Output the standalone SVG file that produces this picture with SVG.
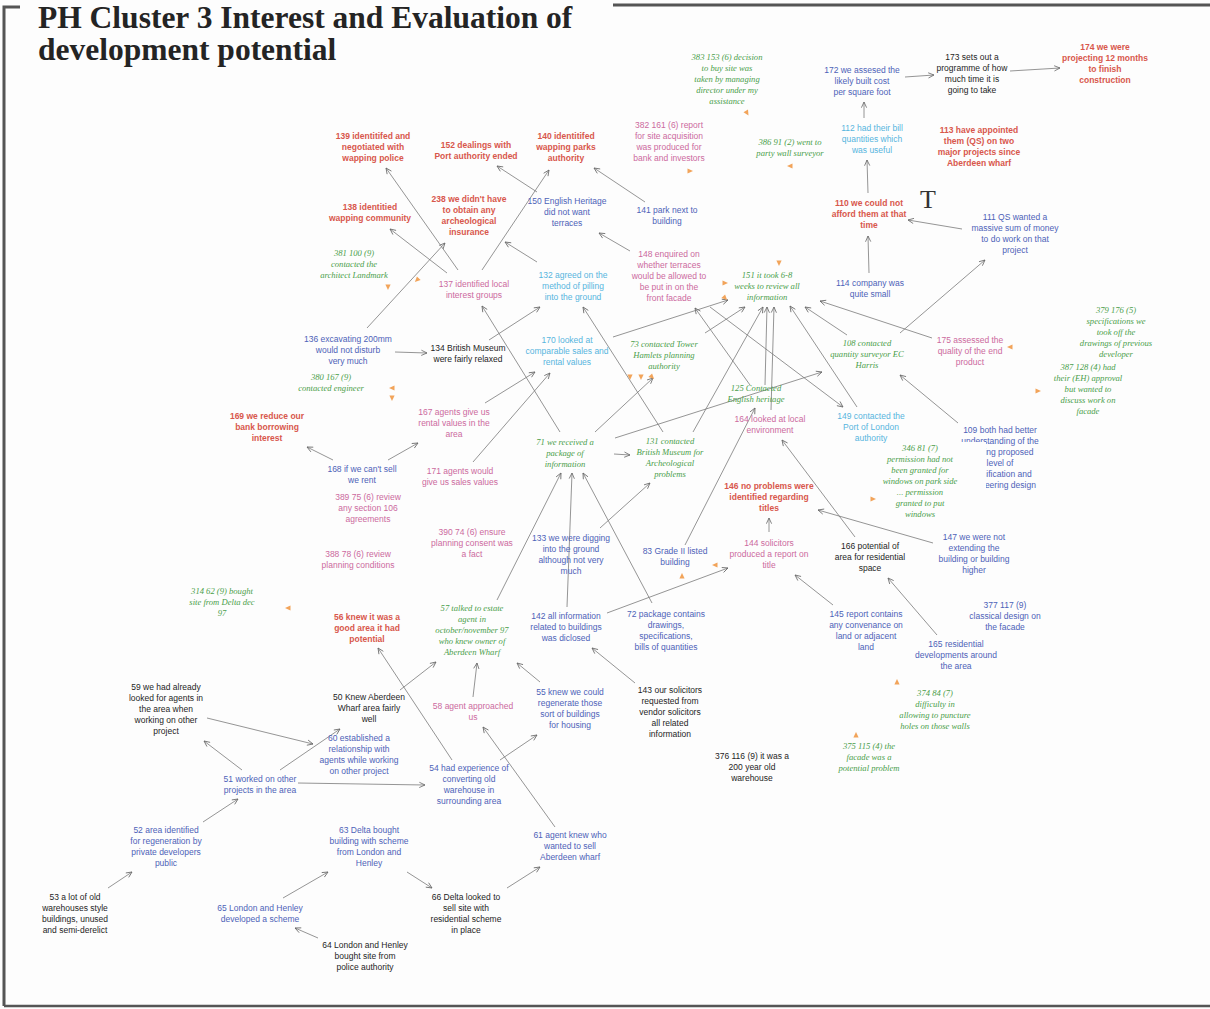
<svg xmlns="http://www.w3.org/2000/svg" xmlns:xlink="http://www.w3.org/1999/xlink" width="1210" height="1009" viewBox="0 0 1210 1009">
<style>
  .s{font-family:"Liberation Sans",Arial,sans-serif;font-size:8.5px;text-anchor:middle}
  .g{font-family:"Liberation Serif","Times New Roman",serif;font-style:italic;font-size:8.6px;text-anchor:middle;fill:#4a9d4a}
  .r{fill:#d8574c;font-weight:bold}
  .p{fill:#cc6a9e}
  .b{fill:#4d62b8}
  .c{fill:#57b5dd}
  .k{fill:#1e1e1e}
  .title{font-family:"Liberation Serif","Times New Roman",serif;font-weight:bold;font-size:31.5px;fill:#242424}
  #edges line{stroke:#7a7a7a;stroke-width:0.8;marker-end:url(#ah)}
  .mk{fill:#f2a45a}
  .frame{stroke:#555;fill:none}
</style>
<defs>
  <marker id="ah" viewBox="0 0 8 8" refX="7.5" refY="4" markerWidth="7" markerHeight="7" markerUnits="userSpaceOnUse" orient="auto">
    <path d="M1,1 L7.5,4 L1,7" fill="none" stroke="#666" stroke-width="0.9"/>
  </marker>
  <path id="tri" d="M-2.5,-2.6 L3,0 L-2.5,2.6 Z"/>
</defs>
<rect width="1210" height="1009" fill="#fdfdfd"/>

<!-- frame -->
<polyline class="frame" points="20,7 4,7 4,1006" stroke-width="3"/>
<line class="frame" x1="613" y1="5" x2="1210" y2="5" stroke-width="3"/>
<line class="frame" x1="4" y1="1006" x2="1210" y2="1006" stroke-width="2.5"/>

<!-- title -->
<text class="title" x="38" y="28">PH Cluster 3 Interest and Evaluation of</text>
<text class="title" x="38" y="60">development potential</text>
<text x="928" y="208" font-family="Liberation Serif,serif" font-size="26" fill="#333" text-anchor="middle">T</text>

<!-- connectors -->
<g id="edges">
  <line x1="905" y1="77" x2="934" y2="75"/>
  <line x1="1010" y1="71" x2="1060" y2="68"/>
  <line x1="864" y1="118" x2="864" y2="102"/>
  <line x1="868" y1="193" x2="867" y2="160"/>
  <line x1="962" y1="229" x2="908" y2="220"/>
  <line x1="869" y1="273" x2="868" y2="236"/>
  <line x1="900" y1="333" x2="985" y2="260"/>
  <line x1="932" y1="338" x2="820" y2="301"/>
  <line x1="847" y1="335" x2="805" y2="307"/>
  <line x1="958" y1="423" x2="900" y2="375"/>
  <line x1="857" y1="407" x2="790" y2="306"/>
  <line x1="710" y1="307" x2="843" y2="407"/>
  <line x1="750" y1="385" x2="695" y2="308"/>
  <line x1="615" y1="438" x2="822" y2="372"/>
  <line x1="765" y1="385" x2="767" y2="307"/>
  <line x1="771" y1="410" x2="774" y2="307"/>
  <line x1="693" y1="432" x2="763" y2="307"/>
  <line x1="705" y1="333" x2="745" y2="307"/>
  <line x1="613" y1="337" x2="728" y2="300"/>
  <line x1="769" y1="532" x2="769" y2="518"/>
  <line x1="685" y1="545" x2="755" y2="408"/>
  <line x1="855" y1="537" x2="782" y2="440"/>
  <line x1="933" y1="543" x2="818" y2="510"/>
  <line x1="833" y1="605" x2="795" y2="575"/>
  <line x1="937" y1="635" x2="888" y2="578"/>
  <line x1="607" y1="613" x2="728" y2="568"/>
  <line x1="635" y1="683" x2="592" y2="648"/>
  <line x1="567" y1="607" x2="572" y2="473"/>
  <line x1="497" y1="600" x2="561" y2="473"/>
  <line x1="652" y1="603" x2="583" y2="473"/>
  <line x1="600" y1="528" x2="650" y2="483"/>
  <line x1="614" y1="454" x2="630" y2="455"/>
  <line x1="595" y1="432" x2="653" y2="378"/>
  <line x1="560" y1="432" x2="482" y2="306"/>
  <line x1="663" y1="432" x2="583" y2="307"/>
  <line x1="485" y1="403" x2="535" y2="372"/>
  <line x1="473" y1="462" x2="550" y2="373"/>
  <line x1="388" y1="460" x2="418" y2="443"/>
  <line x1="333" y1="460" x2="307" y2="447"/>
  <line x1="395" y1="352" x2="427" y2="353"/>
  <line x1="489" y1="340" x2="540" y2="307"/>
  <line x1="367" y1="328" x2="445" y2="243"/>
  <line x1="537" y1="262" x2="505" y2="242"/>
  <line x1="458" y1="270" x2="386" y2="168"/>
  <line x1="447" y1="273" x2="390" y2="229"/>
  <line x1="482" y1="270" x2="549" y2="170"/>
  <line x1="537" y1="192" x2="497" y2="166"/>
  <line x1="645" y1="202" x2="594" y2="168"/>
  <line x1="630" y1="251" x2="599" y2="233"/>
  <line x1="452" y1="760" x2="378" y2="648"/>
  <line x1="400" y1="690" x2="436" y2="662"/>
  <line x1="473" y1="697" x2="477" y2="663"/>
  <line x1="540" y1="682" x2="517" y2="663"/>
  <line x1="207" y1="718" x2="313" y2="744"/>
  <line x1="242" y1="770" x2="204" y2="741"/>
  <line x1="280" y1="770" x2="340" y2="729"/>
  <line x1="298" y1="783" x2="425" y2="785"/>
  <line x1="203" y1="822" x2="238" y2="799"/>
  <line x1="108" y1="888" x2="132" y2="872"/>
  <line x1="283" y1="898" x2="328" y2="872"/>
  <line x1="318" y1="938" x2="295" y2="928"/>
  <line x1="407" y1="872" x2="432" y2="888"/>
  <line x1="507" y1="888" x2="540" y2="867"/>
  <line x1="555" y1="827" x2="483" y2="727"/>
  <line x1="500" y1="760" x2="537" y2="735"/>
</g>

<!-- nodes -->
<g id="n383"><text class="g" y="60"><tspan x="727">383 153 (6) decision</tspan><tspan x="727" dy="11">to buy site was</tspan><tspan x="727" dy="11">taken by managing</tspan><tspan x="727" dy="11">director under my</tspan><tspan x="727" dy="11">assistance</tspan></text></g>
<g id="n382"><text class="s p" y="128"><tspan x="669">382 161 (6) report</tspan><tspan x="669" dy="11">for site acquisition</tspan><tspan x="669" dy="11">was produced for</tspan><tspan x="669" dy="11">bank and investors</tspan></text></g>
<g id="n386"><text class="g" y="145"><tspan x="790">386 91 (2) went to</tspan><tspan x="790" dy="11">party wall surveyor</tspan></text></g>
<g id="n172"><text class="s b" y="73"><tspan x="862">172 we assesed the</tspan><tspan x="862" dy="11">likely built cost</tspan><tspan x="862" dy="11">per square foot</tspan></text></g>
<g id="n173"><text class="s k" y="60"><tspan x="972">173 sets out a</tspan><tspan x="972" dy="11">programme of how</tspan><tspan x="972" dy="11">much time it is</tspan><tspan x="972" dy="11">going to take</tspan></text></g>
<g id="n174"><text class="s r" y="50"><tspan x="1105">174 we were</tspan><tspan x="1105" dy="11">projecting 12 months</tspan><tspan x="1105" dy="11">to finish</tspan><tspan x="1105" dy="11">construction</tspan></text></g>
<g id="n112"><text class="s c" y="131"><tspan x="872">112 had their bill</tspan><tspan x="872" dy="11">quantities which</tspan><tspan x="872" dy="11">was useful</tspan></text></g>
<g id="n113"><text class="s r" y="133"><tspan x="979">113 have appointed</tspan><tspan x="979" dy="11">them (QS) on two</tspan><tspan x="979" dy="11">major projects since</tspan><tspan x="979" dy="11">Aberdeen wharf</tspan></text></g>
<g id="n110"><text class="s r" y="206"><tspan x="869">110 we could not</tspan><tspan x="869" dy="11">afford them at that</tspan><tspan x="869" dy="11">time</tspan></text></g>
<g id="n111"><text class="s b" y="220"><tspan x="1015">111 QS wanted a</tspan><tspan x="1015" dy="11">massive sum of money</tspan><tspan x="1015" dy="11">to do work on that</tspan><tspan x="1015" dy="11">project</tspan></text></g>
<g id="n114"><text class="s b" y="286"><tspan x="870">114 company was</tspan><tspan x="870" dy="11">quite small</tspan></text></g>
<g id="n175"><text class="s p" y="343"><tspan x="970">175 assessed the</tspan><tspan x="970" dy="11">quality of the end</tspan><tspan x="970" dy="11">product</tspan></text></g>
<g id="n379"><text class="g" y="313"><tspan x="1116">379 176 (5)</tspan><tspan x="1116" dy="11">specifications we</tspan><tspan x="1116" dy="11">took off the</tspan><tspan x="1116" dy="11">drawings of previous</tspan><tspan x="1116" dy="11">developer</tspan></text></g>
<g id="n387"><text class="g" y="370"><tspan x="1088">387 128 (4) had</tspan><tspan x="1088" dy="11">their (EH) approval</tspan><tspan x="1088" dy="11">but wanted to</tspan><tspan x="1088" dy="11">discuss work on</tspan><tspan x="1088" dy="11">facade</tspan></text></g>
<g id="n108"><text class="g" y="346"><tspan x="867">108 contacted</tspan><tspan x="867" dy="11">quantity surveyor EC</tspan><tspan x="867" dy="11">Harris</tspan></text></g>
<g id="n109"><text class="s b" y="433"><tspan x="1000">109 both had better</tspan><tspan x="1000" dy="11">understanding of the</tspan><tspan x="1000" dy="11">building proposed</tspan><tspan x="1000" dy="11">level of</tspan><tspan x="1000" dy="11">specification and</tspan><tspan x="1000" dy="11">engineering design</tspan></text></g>
<g id="n346"><rect x="878" y="442" width="108" height="80" fill="#fdfdfd"/><text class="g" y="451"><tspan x="920">346 81 (7)</tspan><tspan x="920" dy="11">permission had not</tspan><tspan x="920" dy="11">been granted for</tspan><tspan x="920" dy="11">windows on park side</tspan><tspan x="920" dy="11">... permission</tspan><tspan x="920" dy="11">granted to put</tspan><tspan x="920" dy="11">windows</tspan></text></g>
<g id="n149"><text class="s c" y="419"><tspan x="871">149 contacted the</tspan><tspan x="871" dy="11">Port of London</tspan><tspan x="871" dy="11">authority</tspan></text></g>
<g id="n151"><text class="g" y="278"><tspan x="767">151 it took 6-8</tspan><tspan x="767" dy="11">weeks to review all</tspan><tspan x="767" dy="11">information</tspan></text></g>
<g id="n148"><text class="s p" y="257"><tspan x="669">148 enquired on</tspan><tspan x="669" dy="11">whether terraces</tspan><tspan x="669" dy="11">would be allowed to</tspan><tspan x="669" dy="11">be put in on the</tspan><tspan x="669" dy="11">front facade</tspan></text></g>
<g id="n125"><text class="g" y="391"><tspan x="756">125 Contacted</tspan><tspan x="756" dy="11">English heritage</tspan></text></g>
<g id="n164"><text class="s p" y="422"><tspan x="770">164 looked at local</tspan><tspan x="770" dy="11">environment</tspan></text></g>
<g id="n146"><text class="s r" y="489"><tspan x="769">146 no problems were</tspan><tspan x="769" dy="11">identified regarding</tspan><tspan x="769" dy="11">titles</tspan></text></g>
<g id="n144"><text class="s p" y="546"><tspan x="769">144 solicitors</tspan><tspan x="769" dy="11">produced a report on</tspan><tspan x="769" dy="11">title</tspan></text></g>
<g id="n166"><text class="s k" y="549"><tspan x="870">166 potential of</tspan><tspan x="870" dy="11">area for residential</tspan><tspan x="870" dy="11">space</tspan></text></g>
<g id="n147"><text class="s b" y="540"><tspan x="974">147 we were not</tspan><tspan x="974" dy="11">extending the</tspan><tspan x="974" dy="11">building or building</tspan><tspan x="974" dy="11">higher</tspan></text></g>
<g id="n377"><text class="s b" y="608"><tspan x="1005">377 117 (9)</tspan><tspan x="1005" dy="11">classical design on</tspan><tspan x="1005" dy="11">the facade</tspan></text></g>
<g id="n145"><text class="s b" y="617"><tspan x="866">145 report contains</tspan><tspan x="866" dy="11">any convenance on</tspan><tspan x="866" dy="11">land or adjacent</tspan><tspan x="866" dy="11">land</tspan></text></g>
<g id="n165"><text class="s b" y="647"><tspan x="956">165 residential</tspan><tspan x="956" dy="11">developments around</tspan><tspan x="956" dy="11">the area</tspan></text></g>
<g id="n374"><text class="g" y="696"><tspan x="935">374 84 (7)</tspan><tspan x="935" dy="11">difficulty in</tspan><tspan x="935" dy="11">allowing to puncture</tspan><tspan x="935" dy="11">holes on those walls</tspan></text></g>
<g id="n375"><text class="g" y="749"><tspan x="869">375 115 (4) the</tspan><tspan x="869" dy="11">facade was a</tspan><tspan x="869" dy="11">potential problem</tspan></text></g>
<g id="n376"><text class="s k" y="759"><tspan x="752">376 116 (9) it was a</tspan><tspan x="752" dy="11">200 year old</tspan><tspan x="752" dy="11">warehouse</tspan></text></g>
<g id="n143"><text class="s k" y="693"><tspan x="670">143 our solicitors</tspan><tspan x="670" dy="11">requested from</tspan><tspan x="670" dy="11">vendor solicitors</tspan><tspan x="670" dy="11">all related</tspan><tspan x="670" dy="11">information</tspan></text></g>
<g id="n83"><text class="s b" y="554"><tspan x="675">83 Grade II listed</tspan><tspan x="675" dy="11">building</tspan></text></g>
<g id="n72"><text class="s b" y="617"><tspan x="666">72 package contains</tspan><tspan x="666" dy="11">drawings,</tspan><tspan x="666" dy="11">specifications,</tspan><tspan x="666" dy="11">bills of quantities</tspan></text></g>
<g id="n142"><text class="s b" y="619"><tspan x="566">142 all information</tspan><tspan x="566" dy="11">related to buildings</tspan><tspan x="566" dy="11">was diclosed</tspan></text></g>
<g id="n133"><text class="s b" y="541"><tspan x="571">133 we were digging</tspan><tspan x="571" dy="11">into the ground</tspan><tspan x="571" dy="11">although not very</tspan><tspan x="571" dy="11">much</tspan></text></g>
<g id="n71"><text class="g" y="445"><tspan x="565">71 we received a</tspan><tspan x="565" dy="11">package of</tspan><tspan x="565" dy="11">information</tspan></text></g>
<g id="n131"><text class="g" y="444"><tspan x="670">131 contacted</tspan><tspan x="670" dy="11">British Museum for</tspan><tspan x="670" dy="11">Archeological</tspan><tspan x="670" dy="11">problems</tspan></text></g>
<g id="n73"><text class="g" y="347"><tspan x="664">73 contacted Tower</tspan><tspan x="664" dy="11">Hamlets planning</tspan><tspan x="664" dy="11">authority</tspan></text></g>
<g id="n170"><text class="s c" y="343"><tspan x="567">170 looked at</tspan><tspan x="567" dy="11">comparable sales and</tspan><tspan x="567" dy="11">rental values</tspan></text></g>
<g id="n132"><text class="s c" y="278"><tspan x="573">132 agreed on the</tspan><tspan x="573" dy="11">method of pilling</tspan><tspan x="573" dy="11">into the ground</tspan></text></g>
<g id="n134"><text class="s k" y="351"><tspan x="468">134 British Museum</tspan><tspan x="468" dy="11">were fairly relaxed</tspan></text></g>
<g id="n137"><text class="s p" y="287"><tspan x="474">137 identified local</tspan><tspan x="474" dy="11">interest groups</tspan></text></g>
<g id="n150"><text class="s b" y="204"><tspan x="567">150 English Heritage</tspan><tspan x="567" dy="11">did not want</tspan><tspan x="567" dy="11">terraces</tspan></text></g>
<g id="n141"><text class="s b" y="213"><tspan x="667">141 park next to</tspan><tspan x="667" dy="11">building</tspan></text></g>
<g id="n140"><text class="s r" y="139"><tspan x="566">140 identitifed</tspan><tspan x="566" dy="11">wapping parks</tspan><tspan x="566" dy="11">authority</tspan></text></g>
<g id="n152"><text class="s r" y="148"><tspan x="476">152 dealings with</tspan><tspan x="476" dy="11">Port authority ended</tspan></text></g>
<g id="n139"><text class="s r" y="139"><tspan x="373">139 identitifed and</tspan><tspan x="373" dy="11">negotiated with</tspan><tspan x="373" dy="11">wapping police</tspan></text></g>
<g id="n238"><text class="s r" y="202"><tspan x="469">238 we didn't have</tspan><tspan x="469" dy="11">to obtain any</tspan><tspan x="469" dy="11">archeological</tspan><tspan x="469" dy="11">insurance</tspan></text></g>
<g id="n138"><text class="s r" y="210"><tspan x="370">138 identitied</tspan><tspan x="370" dy="11">wapping community</tspan></text></g>
<g id="n381"><text class="g" y="256"><tspan x="354">381 100 (9)</tspan><tspan x="354" dy="11">contacted the</tspan><tspan x="354" dy="11">architect Landmark</tspan></text></g>
<g id="n136"><text class="s b" y="342"><tspan x="348">136 excavating 200mm</tspan><tspan x="348" dy="11">would not disturb</tspan><tspan x="348" dy="11">very much</tspan></text></g>
<g id="n380"><text class="g" y="380"><tspan x="331">380 167 (9)</tspan><tspan x="331" dy="11">contacted engineer</tspan></text></g>
<g id="n169"><text class="s r" y="419"><tspan x="267">169 we reduce our</tspan><tspan x="267" dy="11">bank borrowing</tspan><tspan x="267" dy="11">interest</tspan></text></g>
<g id="n168"><text class="s b" y="472"><tspan x="362">168 if we can't sell</tspan><tspan x="362" dy="11">we rent</tspan></text></g>
<g id="n167"><text class="s p" y="415"><tspan x="454">167 agents give us</tspan><tspan x="454" dy="11">rental values in the</tspan><tspan x="454" dy="11">area</tspan></text></g>
<g id="n171"><text class="s p" y="474"><tspan x="460">171 agents would</tspan><tspan x="460" dy="11">give us sales values</tspan></text></g>
<g id="n389"><text class="s p" y="500"><tspan x="368">389 75 (6) review</tspan><tspan x="368" dy="11">any section 106</tspan><tspan x="368" dy="11">agreements</tspan></text></g>
<g id="n390"><text class="s p" y="535"><tspan x="472">390 74 (6) ensure</tspan><tspan x="472" dy="11">planning consent was</tspan><tspan x="472" dy="11">a fact</tspan></text></g>
<g id="n388"><text class="s p" y="557"><tspan x="358">388 78 (6) review</tspan><tspan x="358" dy="11">planning conditions</tspan></text></g>
<g id="n314"><text class="g" y="594"><tspan x="222">314 62 (9) bought</tspan><tspan x="222" dy="11">site from Delta dec</tspan><tspan x="222" dy="11">97</tspan></text></g>
<g id="n56"><text class="s r" y="620"><tspan x="367">56 knew it was a</tspan><tspan x="367" dy="11">good area it had</tspan><tspan x="367" dy="11">potential</tspan></text></g>
<g id="n57"><text class="g" y="611"><tspan x="472">57 talked to estate</tspan><tspan x="472" dy="11">agent in</tspan><tspan x="472" dy="11">october/november 97</tspan><tspan x="472" dy="11">who knew owner of</tspan><tspan x="472" dy="11">Aberdeen Wharf</tspan></text></g>
<g id="n59"><text class="s k" y="690"><tspan x="166">59 we had already</tspan><tspan x="166" dy="11">looked for agents in</tspan><tspan x="166" dy="11">the area when</tspan><tspan x="166" dy="11">working on other</tspan><tspan x="166" dy="11">project</tspan></text></g>
<g id="n50"><text class="s k" y="700"><tspan x="369">50 Knew Aberdeen</tspan><tspan x="369" dy="11">Wharf area fairly</tspan><tspan x="369" dy="11">well</tspan></text></g>
<g id="n58"><text class="s p" y="709"><tspan x="473">58 agent approached</tspan><tspan x="473" dy="11">us</tspan></text></g>
<g id="n55"><text class="s b" y="695"><tspan x="570">55 knew we could</tspan><tspan x="570" dy="11">regenerate those</tspan><tspan x="570" dy="11">sort of buildings</tspan><tspan x="570" dy="11">for housing</tspan></text></g>
<g id="n60"><text class="s b" y="741"><tspan x="359">60 established a</tspan><tspan x="359" dy="11">relationship with</tspan><tspan x="359" dy="11">agents while working</tspan><tspan x="359" dy="11">on other project</tspan></text></g>
<g id="n51"><text class="s b" y="782"><tspan x="260">51 worked on other</tspan><tspan x="260" dy="11">projects in the area</tspan></text></g>
<g id="n54"><text class="s b" y="771"><tspan x="469">54 had experience of</tspan><tspan x="469" dy="11">converting old</tspan><tspan x="469" dy="11">warehouse in</tspan><tspan x="469" dy="11">surrounding area</tspan></text></g>
<g id="n52"><text class="s b" y="833"><tspan x="166">52 area identified</tspan><tspan x="166" dy="11">for regeneration by</tspan><tspan x="166" dy="11">private developers</tspan><tspan x="166" dy="11">public</tspan></text></g>
<g id="n63"><text class="s b" y="833"><tspan x="369">63 Delta bought</tspan><tspan x="369" dy="11">building with scheme</tspan><tspan x="369" dy="11">from London and</tspan><tspan x="369" dy="11">Henley</tspan></text></g>
<g id="n61"><text class="s b" y="838"><tspan x="570">61 agent knew who</tspan><tspan x="570" dy="11">wanted to sell</tspan><tspan x="570" dy="11">Aberdeen wharf</tspan></text></g>
<g id="n53"><text class="s k" y="900"><tspan x="75">53 a lot of old</tspan><tspan x="75" dy="11">warehouses style</tspan><tspan x="75" dy="11">buildings, unused</tspan><tspan x="75" dy="11">and semi-derelict</tspan></text></g>
<g id="n65"><text class="s b" y="911"><tspan x="260">65 London and Henley</tspan><tspan x="260" dy="11">developed a scheme</tspan></text></g>
<g id="n66"><text class="s k" y="900"><tspan x="466">66 Delta looked to</tspan><tspan x="466" dy="11">sell site with</tspan><tspan x="466" dy="11">residential scheme</tspan><tspan x="466" dy="11">in place</tspan></text></g>
<g id="n64"><text class="s k" y="948"><tspan x="365">64 London and Henley</tspan><tspan x="365" dy="11">bought site from</tspan><tspan x="365" dy="11">police authority</tspan></text></g>

<!-- small orange flags beside memo notes -->
<g id="flags">
  <use href="#tri" class="mk" transform="translate(747,113) rotate(60)"/>
  <use href="#tri" class="mk" transform="translate(690,171)"/>
  <use href="#tri" class="mk" transform="translate(790,166) rotate(180)"/>
  <use href="#tri" class="mk" transform="translate(388,287) rotate(90)"/>
  <use href="#tri" class="mk" transform="translate(392,388) rotate(180)"/>
  <use href="#tri" class="mk" transform="translate(392,398) rotate(90)"/>
  <use href="#tri" class="mk" transform="translate(417,280) rotate(135)"/>
  <use href="#tri" class="mk" transform="translate(779,263) rotate(90)"/>
  <use href="#tri" class="mk" transform="translate(725,283)"/>
  <use href="#tri" class="mk" transform="translate(725,298) rotate(45)"/>
  <use href="#tri" class="mk" transform="translate(630,377) rotate(90)"/>
  <use href="#tri" class="mk" transform="translate(641,377) rotate(90)"/>
  <use href="#tri" class="mk" transform="translate(652,377) rotate(45)"/>
  <use href="#tri" class="mk" transform="translate(1010,347) rotate(180)"/>
  <use href="#tri" class="mk" transform="translate(1038,391)"/>
  <use href="#tri" class="mk" transform="translate(873,499)"/>
  <use href="#tri" class="mk" transform="translate(288,608) rotate(180)"/>
  <use href="#tri" class="mk" transform="translate(715,565) rotate(180)"/>
  <use href="#tri" class="mk" transform="translate(682,576) rotate(-90)"/>
  <use href="#tri" class="mk" transform="translate(897,682) rotate(-90)"/>
  <use href="#tri" class="mk" transform="translate(856,735) rotate(-90)"/>
</g>
</svg>
